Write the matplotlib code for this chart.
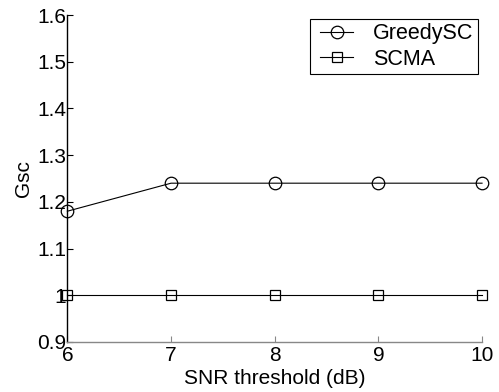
import matplotlib
matplotlib.use("Agg")
import matplotlib.pyplot as plt
from matplotlib.legend_handler import HandlerLine2D

snr = [6, 7, 8, 9, 10]
greedy = [1.18, 1.24, 1.24, 1.24, 1.24]
scma = [1.0, 1.0, 1.0, 1.0, 1.0]
yticks = [0.9, 1.0, 1.1, 1.2, 1.3, 1.4, 1.5, 1.6]
ytick_labels = ["0.9", "1", "1.1", "1.2", "1.3", "1.4", "1.5", "1.6"]

plt.rcParams['font.family'] = ['Liberation Sans', 'DejaVu Sans']
fs = 15
fig = plt.figure(figsize=(4.99, 3.92), dpi=100)
ax = fig.add_axes([0.135, 0.1276, 0.831, 0.834])
l1, = ax.plot(snr, greedy, '-o', color='black', mfc='none', ms=9, lw=0.8, mew=0.9,
              label='GreedySC', clip_on=False, zorder=3)
l2, = ax.plot(snr, scma, '-s', color='black', mfc='none', ms=7.5, lw=0.8, mew=0.9,
              label='SCMA', clip_on=False, zorder=3)
ax.set_xlim(6, 10)
ax.set_ylim(0.9, 1.6)
ax.set_xticks(snr)
ax.set_yticks(yticks)
ax.set_yticklabels(ytick_labels)
ax.spines['top'].set_visible(False)
ax.spines['right'].set_visible(False)
ax.spines['left'].set_linewidth(1.0)
ax.spines['bottom'].set_linewidth(1.0)
ax.spines['bottom'].set_color('#888888')
ax.tick_params(direction='in', length=4, labelsize=fs)
ax.tick_params(axis='x', color='#888888')
ax.tick_params(axis='y', pad=1)
ax.tick_params(axis='x', pad=3)
ax.set_xlabel('SNR threshold (dB)', fontsize=fs, labelpad=3)
ax.set_ylabel('Gsc', fontsize=fs, labelpad=3)
hmap = {l1: HandlerLine2D(xpad=0.3), l2: HandlerLine2D(xpad=0.3)}
leg = ax.legend(loc='upper right', bbox_to_anchor=(0.99, 0.988), fontsize=15.5,
                frameon=True, fancybox=False, edgecolor='black', framealpha=1,
                handlelength=1.8, borderpad=0.2, labelspacing=0.2,
                handletextpad=0.95, borderaxespad=0.0, handler_map=hmap)
leg.get_frame().set_linewidth(0.8)
fig.savefig('out.png', dpi=100)
